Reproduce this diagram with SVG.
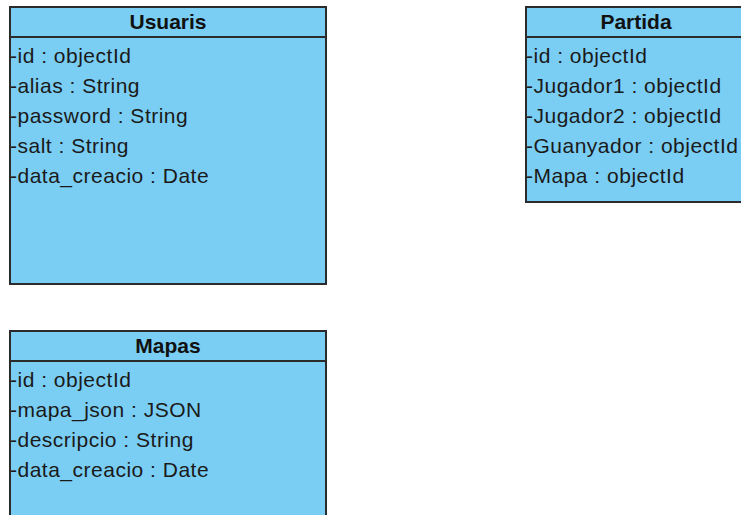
<svg xmlns="http://www.w3.org/2000/svg" width="741" height="515" viewBox="0 0 741 515">
<style>
.box{fill:#7acef4;stroke:#2b2b2b;stroke-width:2}
.div{stroke:#2b2b2b;stroke-width:2}
.t{font-family:"Liberation Sans",Arial,sans-serif;font-size:21px;font-weight:bold;fill:#111;text-anchor:middle}
.a{font-family:"Liberation Sans",Arial,sans-serif;font-size:21px;fill:#1a1a1a;letter-spacing:0.5px}
</style>
<rect width="741" height="515" fill="#ffffff"/>
<g id="connectors"></g>
<g id="Usuaris">
<rect class="box" x="10" y="7" width="316" height="277"/>
<line class="div" x1="10" y1="37" x2="326" y2="37"/>
<text class="t" x="168" y="29">Usuaris</text>
<text class="a" x="10" y="63">-id : objectId</text>
<text class="a" x="10" y="93">-alias : String</text>
<text class="a" x="10" y="123">-password : String</text>
<text class="a" x="10" y="153">-salt : String</text>
<text class="a" x="10" y="183">-data_creacio : Date</text>
</g>
<g id="Partida">
<rect class="box" x="526" y="7" width="240" height="195"/>
<line class="div" x1="526" y1="37" x2="766" y2="37"/>
<text class="t" x="636" y="29">Partida</text>
<text class="a" x="526" y="63">-id : objectId</text>
<text class="a" x="526" y="93">-Jugador1  : objectId</text>
<text class="a" x="526" y="123">-Jugador2 : objectId</text>
<text class="a" x="526" y="153">-Guanyador : objectId</text>
<text class="a" x="526" y="183">-Mapa : objectId</text>
</g>
<g id="Mapas">
<rect class="box" x="10" y="331" width="316" height="200"/>
<line class="div" x1="10" y1="361" x2="326" y2="361"/>
<text class="t" x="168" y="353">Mapas</text>
<text class="a" x="10" y="387">-id : objectId</text>
<text class="a" x="10" y="417">-mapa_json : JSON</text>
<text class="a" x="10" y="447">-descripcio : String</text>
<text class="a" x="10" y="477">-data_creacio : Date</text>
</g>
</svg>
